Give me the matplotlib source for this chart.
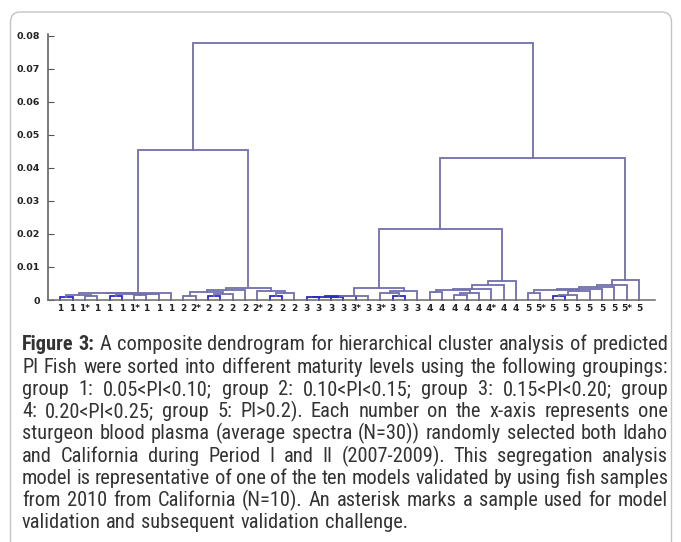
import numpy as np
import matplotlib
matplotlib.use('Agg')
import matplotlib.pyplot as plt
from matplotlib import font_manager
from matplotlib.patches import FancyBboxPatch
from matplotlib.transforms import IdentityTransform

# leaf labels, in display order (asterisk = validation sample)
labels_g1 = ['1', '1', '1*', '1', '1', '1', '1*', '1', '1', '1']
labels_g2 = ['2', '2*', '2', '2', '2', '2', '2*', '2', '2', '2']
labels_g3 = ['3', '3', '3', '3', '3*', '3', '3*', '3', '3', '3']
labels_g4 = ['4', '4', '4', '4', '4', '4*', '4', '4']
labels_g5 = ['5', '5*', '5', '5', '5', '5', '5', '5', '5*', '5']
leaf_labels = labels_g1 + labels_g2 + labels_g3 + labels_g4 + labels_g5

# linkage: node 48+k joins merge_a[k] and merge_b[k] at merge_h[k]
merge_a = [0, 2, 48, 4, 6, 52, 51, 50, 55,
           10, 12, 58, 57, 60, 17, 62, 16, 61,
           56,
           20, 22, 67, 69, 70, 27, 26, 73, 71,
           30, 32, 77, 76, 79, 80, 81,
           75,
           38, 40, 85, 86, 84, 88, 89, 90, 91,
           83, 66]
merge_b = [1, 3, 49, 5, 7, 8, 53, 54, 9,
           11, 13, 14, 59, 15, 18, 19, 63, 64,
           65,
           21, 23, 68, 24, 25, 28, 72, 29, 74,
           31, 33, 34, 78, 35, 36, 37,
           82,
           39, 41, 42, 43, 87, 44, 45, 46, 47,
           92, 93]
merge_h = [0.0010, 0.0013, 0.0016, 0.0012, 0.0015, 0.0017, 0.0019, 0.0020, 0.0022,
           0.0013, 0.0011, 0.0018, 0.0024, 0.0030, 0.0012, 0.0021, 0.0028, 0.0036,
           0.0455,
           0.0008, 0.0008, 0.0010, 0.0011, 0.0013, 0.0012, 0.0022, 0.0026, 0.0036,
           0.0024, 0.0014, 0.0020, 0.0030, 0.0034, 0.0045, 0.0058,
           0.0215,
           0.0022, 0.0012, 0.0016, 0.0026, 0.0030, 0.0034, 0.0040, 0.0046, 0.0062,
           0.0430, 0.0780]

y_ticks = [0, 0.01, 0.02, 0.03, 0.04, 0.05, 0.06, 0.07, 0.08]
y_tick_labels = ['0', '0.01', '0.02', '0.03', '0.04', '0.05', '0.06', '0.07', '0.08']

caption_lines = [
    "Figure 3: A composite dendrogram for hierarchical cluster analysis of predicted",
    "PI Fish were sorted into different maturity levels using the following groupings:",
    "group 1: 0.05<PI<0.10; group 2: 0.10<PI<0.15; group 3: 0.15<PI<0.20; group",
    "4: 0.20<PI<0.25; group 5: PI>0.2). Each number on the x-axis represents one",
    "sturgeon blood plasma (average spectra (N=30)) randomly selected both Idaho",
    "and California during Period I and II (2007-2009). This segregation analysis",
    "model is representative of one of the ten models validated by using fish samples",
    "from 2010 from California (N=10). An asterisk marks a sample used for model",
    "validation and subsequent validation challenge.",
]

W, H = 681, 542
fig = plt.figure(figsize=(W / 100, H / 100), dpi=100)
fig.patch.set_facecolor('white')

# rounded frame around the figure panel
frame = FancyBboxPatch((10.5, -30), 661, 542 - 12 + 30,
                       boxstyle='round,pad=0,rounding_size=10',
                       transform=IdentityTransform(), facecolor='none',
                       edgecolor='#c4c4c4', linewidth=1.0)
fig.patches.append(frame)

ax = fig.add_axes([48 / W, 242 / H, (655 - 48) / W, (300 - 34) / H])

# dendrogram positions: leaves at 1..n, internal node at mean of children
n = len(leaf_labels)
node_x = {i: i + 1.0 for i in range(n)}
node_h = {i: 0.0 for i in range(n)}
line_col = '#7070ad'
for k, (a, b, h) in enumerate(zip(merge_a, merge_b, merge_h)):
    xa, xb = node_x[a], node_x[b]
    ax.plot([xa, xa, xb, xb], [node_h[a], h, h, node_h[b]],
            color=line_col if h > 0.00125 else '#2b2bc8', linewidth=1.3,
            solid_joinstyle='miter', clip_on=False)
    node_x[n + k] = (xa + xb) / 2
    node_h[n + k] = h

ax.set_xlim(0, 49.3)
ax.set_ylim(0, 0.0806)
for s in ['top', 'right']:
    ax.spines[s].set_visible(False)
ax.spines['left'].set_color('#555555')
ax.spines['bottom'].set_color('#6a6a6a')
ax.spines['left'].set_linewidth(1.1)
ax.spines['bottom'].set_linewidth(1.1)

ax.set_yticks(y_ticks)
ax.set_yticklabels(y_tick_labels, fontsize=6.8, fontweight='bold', color='#222222')
ax.tick_params(axis='y', direction='in', length=4, color='#555555', pad=6)
ax.set_xticks(np.arange(1, n + 1))
ax.set_xticklabels(leaf_labels, fontsize=6.5, fontweight='bold', color='#222222')
ax.tick_params(axis='x', length=0, pad=3)

# caption, justified between x0 and x1 (pixels)
names = {f.name for f in font_manager.fontManager.ttflist}
cap_font = 'Liberation Sans'
for cand in ['Liberation Sans Narrow', 'Roboto Condensed', 'Arial Narrow',
             'Open Sans Condensed', 'Roboto']:
    if cand in names:
        cap_font = cand
        break
x0, x1 = 22, 668
y_first, line_gap = 345, 22.2
renderer = fig.canvas.get_renderer()

# pick a size so the widest line just fits at natural spacing
probe = [fig.text(0, 0, ln, fontsize=10, family=cap_font) for ln in caption_lines[:-1]]
widest = max(p.get_window_extent(renderer).width for p in probe)
for p in probe:
    p.remove()
size = 10 * (x1 - x0) * 0.995 / widest

for li, line in enumerate(caption_lines):
    words = line.split(' ')
    y = 1 - (y_first + li * line_gap) / H
    texts = []
    for wi, wd in enumerate(words):
        bold = (li == 0 and wi < 2)
        t = fig.text(0, y, wd, fontsize=size, family=cap_font, color='#333333',
                     fontweight='bold' if bold else 'normal', va='center', ha='left')
        texts.append(t)
    widths = [t.get_window_extent(renderer).width for t in texts]
    if li < len(caption_lines) - 1:
        gap = (x1 - x0 - sum(widths)) / (len(words) - 1)
    else:
        gap = size * 0.36
    xc = x0
    for t, wdt in zip(texts, widths):
        t.set_x(xc / W)
        xc += wdt + gap

fig.savefig('out.png', dpi=100)
